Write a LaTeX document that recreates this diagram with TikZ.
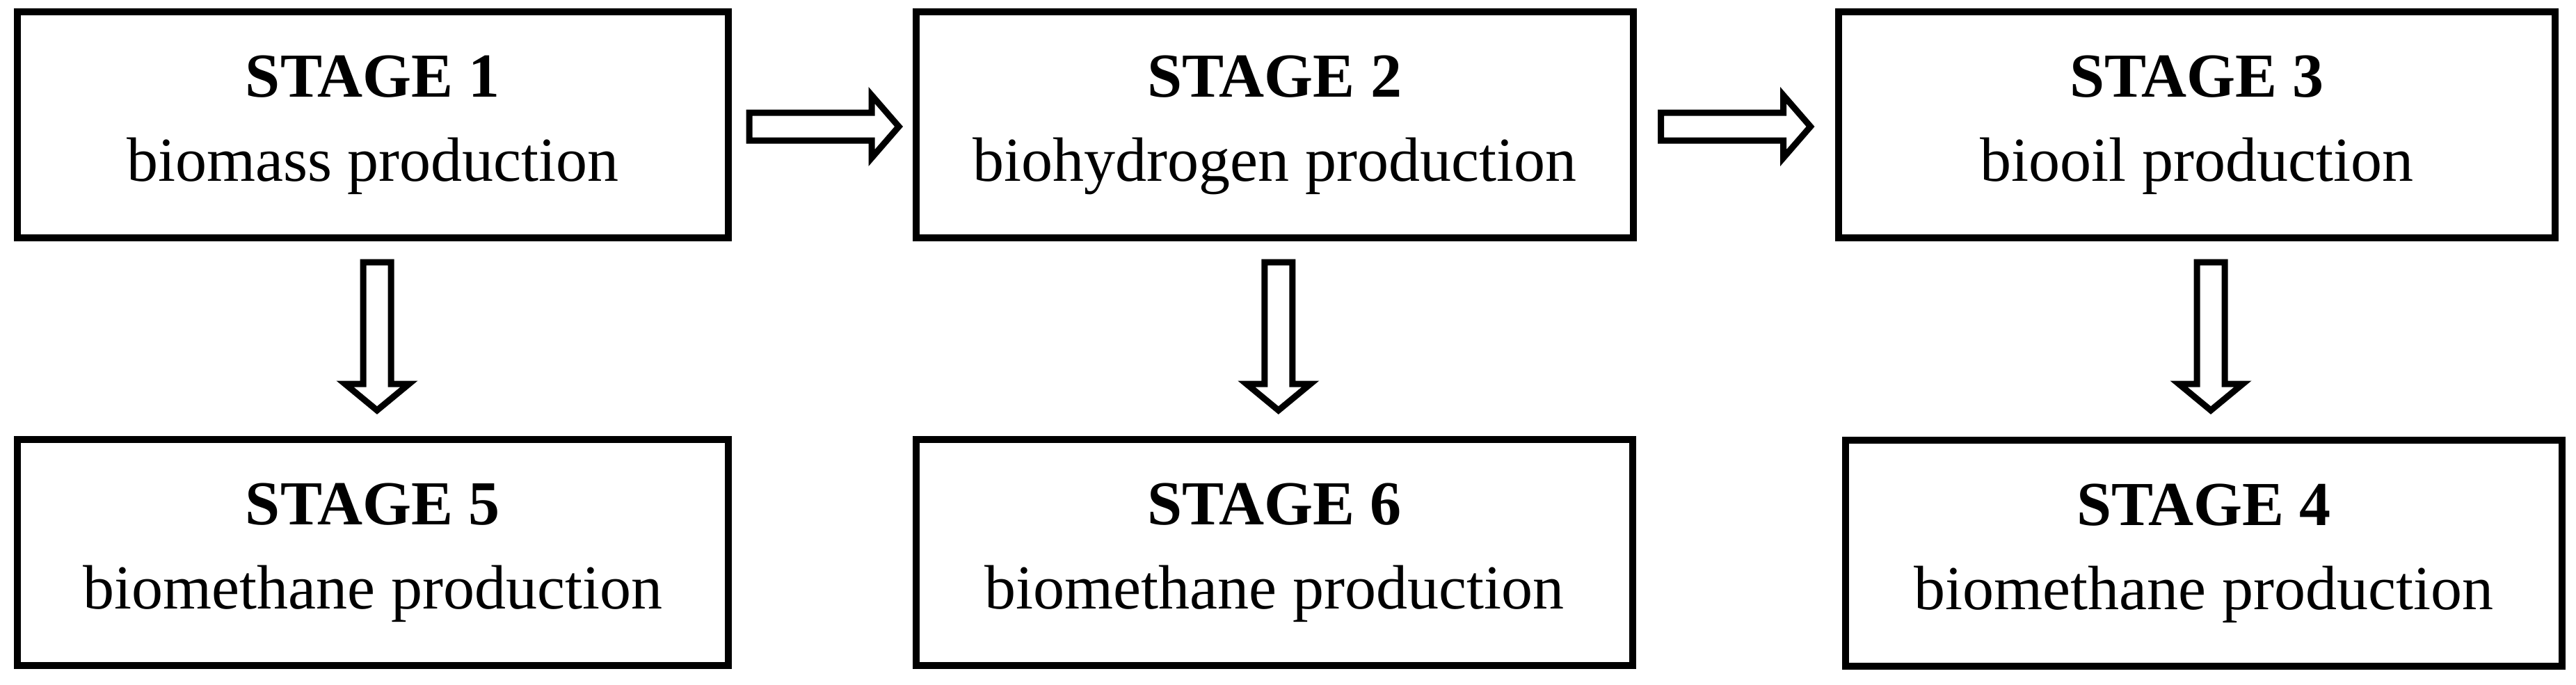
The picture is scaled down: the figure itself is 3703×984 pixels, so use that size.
\documentclass[tikz,border=0pt]{standalone}
\usepackage{fontspec}
\setmainfont{Liberation Serif}
\usetikzlibrary{calc}
\begin{document}
\begin{tikzpicture}[x=0.01cm,y=-0.01cm,
  stagebox/.style={draw=black,line width=0.1cm,inner sep=0pt,minimum height=3.25cm,
    align=center,font={\fontsize{25.6pt}{34.4pt}\selectfont}},
  blockarrow/.style={draw=black,fill=white,line width=0.09cm,line join=miter},
  rarr/.pic={\draw[blockarrow] (-108,-20) -- (68,-20) -- (68,-45) -- (107,0) -- (68,45) -- (68,20) -- (-108,20) -- cycle;},
  darr/.pic={\draw[blockarrow] (-20,-107.5) -- (-20,67.5) -- (-46,67.5) -- (0,105.5) -- (46,67.5) -- (20,67.5) -- (20,-107.5) -- cycle;}
]
\useasboundingbox[fill=white] (0,0) rectangle (3703,984);
\node[stagebox,minimum width=10.22cm] (s1) at (536,179.5) {\textbf{STAGE 1}\\biomass production};
\node[stagebox,minimum width=10.31cm] (s2) at (1832.5,179.5) {\textbf{STAGE 2}\\biohydrogen production};
\node[stagebox,minimum width=10.30cm] (s3) at (3158,179.5) {\textbf{STAGE 3}\\biooil production};
\node[stagebox,minimum width=10.22cm] (s5) at (536,794.5) {\textbf{STAGE 5}\\biomethane production};
\node[stagebox,minimum width=10.30cm] (s6) at (1832,794.5) {\textbf{STAGE 6}\\biomethane production};
\node[stagebox,minimum width=10.30cm] (s4) at (3168,795.5) {\textbf{STAGE 4}\\biomethane production};
\coordinate (a12) at ($(s1.east)!0.5!(s2.west)+(3,2.5)$);
\coordinate (a23) at ($(s2.east)!0.5!(s3.west)+(0,2.5)$);
\coordinate (a15) at ($(s1.south)!0.5!(s5.north)+(6,-2.5)$);
\coordinate (a26) at ($(s2.south)!0.5!(s6.north)+(5.5,-2.5)$);
\coordinate (a34) at ($(s3.south)!0.5!(s4.north)+(15,-3)$);
\pic at (a12) {rarr};
\pic at (a23) {rarr};
\pic at (a15) {darr};
\pic at (a26) {darr};
\pic at (a34) {darr};
\end{tikzpicture}
\end{document}
